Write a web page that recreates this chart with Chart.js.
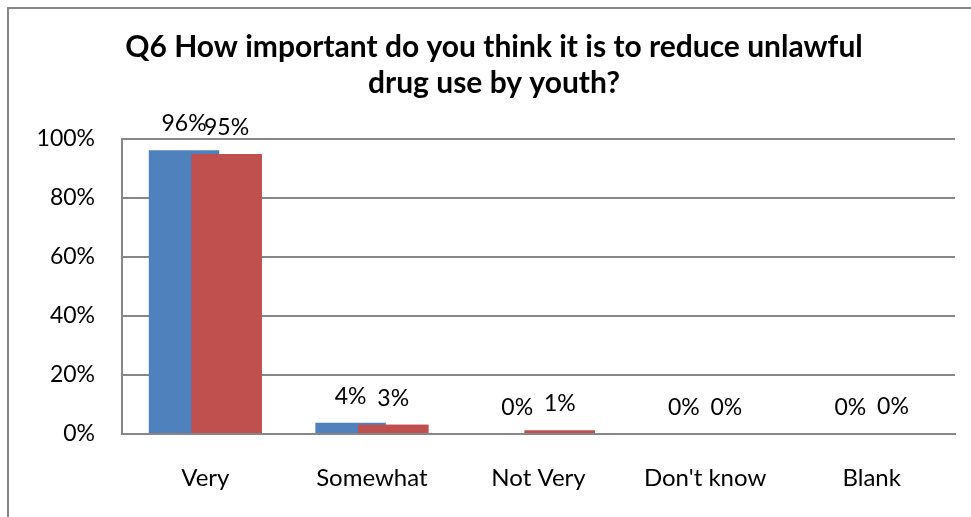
<!DOCTYPE html>
<html>
<head>
<meta charset="utf-8">
<script src="https://cdn.jsdelivr.net/npm/chart.js@4/dist/chart.umd.min.js"></script>
<style>
  html, body { margin: 0; padding: 0; background: #fff; overflow: hidden; width: 971px; height: 517px; }
  #frame { position: absolute; left: 7px; top: 7px; width: 2000px; height: 2000px; border-left: 2px solid #878787; border-top: 2px solid #878787; }
  #c { position: absolute; left: 0; top: 0; }
</style>
</head>
<body>
<div id="frame"></div>
<canvas id="c" width="971" height="517"></canvas>
<script>
const titleLines = ["Q6 How important do you think it is to reduce unlawful", "drug use by youth?"];
const categories = ["Very", "Somewhat", "Not Very", "Don't know", "Blank"];
const seriesBlue = [96.2, 3.8, 0, 0, 0];
const seriesRed = [94.9, 3.1, 1.2, 0, 0.3];
const yTicks = [0, 20, 40, 60, 80, 100];

const FONT = "Lato, 'Open Sans', sans-serif";

const labelPlugin = {
  id: 'barLabels',
  afterDatasetsDraw(chart) {
    // draw red series on top of blue (overlapping bars)
    chart.getDatasetMeta(1).controller.draw();
    const ctx = chart.ctx;
    ctx.save();
    ctx.font = "23px " + FONT;
    ctx.fillStyle = "#000";
    ctx.textAlign = "center";
    ctx.textBaseline = "alphabetic";
    chart.data.datasets.forEach((ds, di) => {
      const meta = chart.getDatasetMeta(di);
      meta.data.forEach((bar, i) => {
        const v = Math.round(ds.data[i]);
        ctx.fillText(v + "%", bar.x, bar.y - 19);
      });
    });
    ctx.restore();
  }
};

new Chart(document.getElementById('c'), {
  type: 'bar',
  data: {
    labels: categories,
    datasets: [
      { label: 'A', data: seriesBlue, backgroundColor: '#4F81BD', categoryPercentage: 0.511, barPercentage: 1.655 },
      { label: 'B', data: seriesRed, backgroundColor: '#C0504D', categoryPercentage: 0.511, barPercentage: 1.655 }
    ]
  },
  options: {
    responsive: false,
    animation: false,
    devicePixelRatio: 1,
    layout: { padding: { left: 33, right: 16, top: 0, bottom: 0 } },
    plugins: {
      legend: { display: false },
      tooltip: { enabled: false },
      title: {
        display: true,
        text: titleLines,
        color: '#000',
        font: { family: FONT, size: 30, weight: 'bold', lineHeight: 36 / 30 },
        padding: { top: 29, bottom: 38 }
      }
    },
    scales: {
      x: {
        grid: { display: false, drawTicks: false },
        border: { display: true, color: '#878787', width: 2 },
        ticks: { color: '#000', font: { family: FONT, size: 24 }, padding: 30, maxRotation: 0 },
        afterFit(s) { s.height = 83; }
      },
      y: {
        min: 0, max: 100,
        afterBuildTicks(s) { s.ticks = yTicks.map(v => ({ value: v })); },
        grid: { color: '#878787', lineWidth: 2, drawTicks: false },
        border: { display: true, color: '#878787', width: 2 },
        ticks: { color: '#000', font: { family: FONT, size: 23 }, padding: 27, callback: v => v + '%' },
        afterFit(s) { s.width = 89; }
      }
    }
  },
  plugins: [labelPlugin]
});
</script>
</body>
</html>
